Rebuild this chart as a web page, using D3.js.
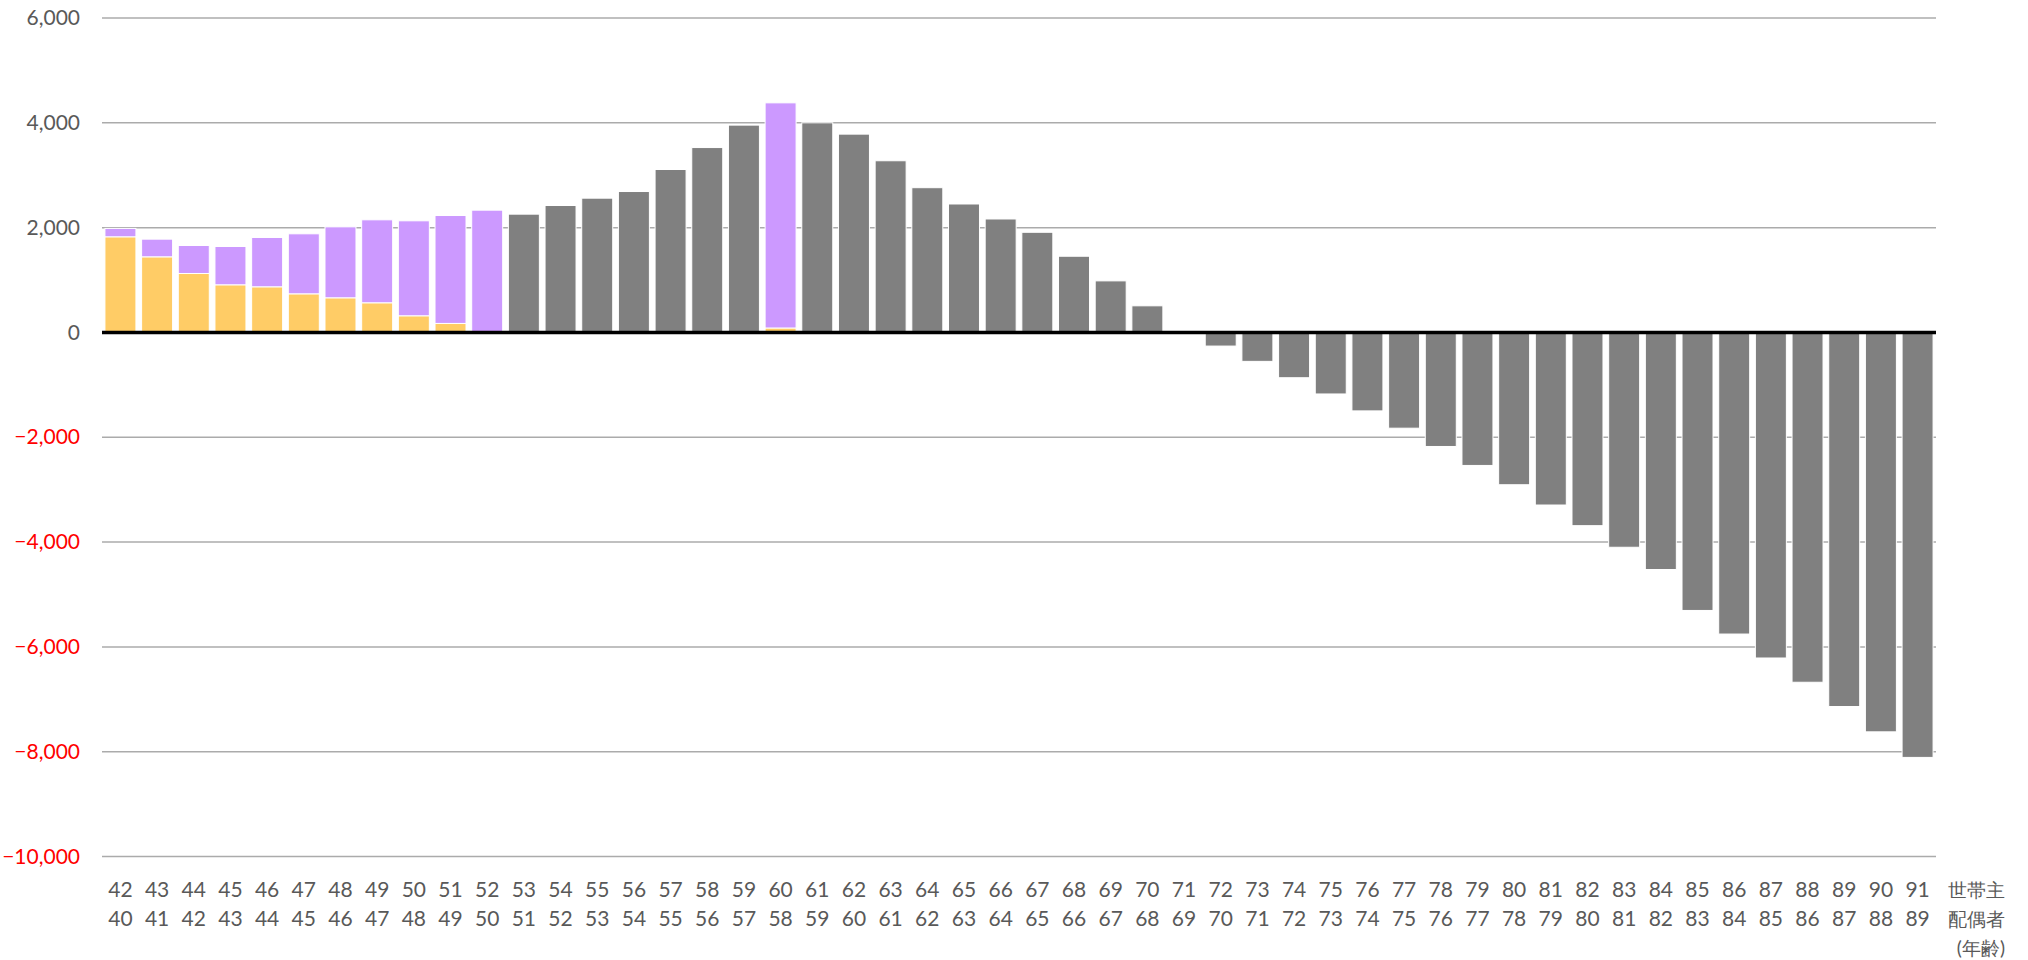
<!DOCTYPE html>
<html>
<head>
<meta charset="utf-8">
<script src="https://cdn.jsdelivr.net/npm/d3@7/dist/d3.min.js"></script>
<style>
  html, body { margin: 0; padding: 0; background: #fff; }
  svg { display: block; }
  text { font-family: Lato, "Noto Sans", sans-serif; }
</style>
</head>
<body>
<svg id="chart" width="2028" height="960"></svg>
<script>
// ---- data ----
const headAges   = [42,43,44,45,46,47,48,49,50,51,52,53,54,55,56,57,58,59,60,61,62,63,64,65,66,67,68,69,70,71,72,73,74,75,76,77,78,79,80,81,82,83,84,85,86,87,88,89,90,91];
const spouseAges = [40,41,42,43,44,45,46,47,48,49,50,51,52,53,54,55,56,57,58,59,60,61,62,63,64,65,66,67,68,69,70,71,72,73,74,75,76,77,78,79,80,81,82,83,84,85,86,87,88,89];
const yellowVals = [1825,1443,1125,909,871,737,661,566,318,172,0,0,0,0,0,0,0,0,85,0,0,0,0,0,0,0,0,0,0,0,0,0,0,0,0,0,0,0,0,0,0,0,0,0,0,0,0,0,0,0];
const purpleVals = [160,337,534,731,941,1145,1354,1583,1812,2059,2333,0,0,0,0,0,0,0,4296,0,0,0,0,0,0,0,0,0,0,0,0,0,0,0,0,0,0,0,0,0,0,0,0,0,0,0,0,0,0,0];
const grayVals   = [0,0,0,0,0,0,0,0,0,0,0,2257,2422,2562,2689,3109,3528,3956,0,4000,3784,3276,2762,2451,2165,1911,1454,984,508,0,-260,-552,-864,-1174,-1497,-1827,-2176,-2538,-2906,-3293,-3687,-4099,-4524,-5305,-5755,-6212,-6675,-7138,-7621,-8109];
const yTicks = [6000,4000,2000,0,-2000,-4000,-6000,-8000,-10000];
const axisTitle = ["世帯主","配偶者","(年齢)"];
const seriesKeys = ["yellow","purple","gray"];
const seriesColors = ["#FFCC66","#CC99FF","#808080"];

(function () {
// ---- layout ----
const svg = d3.select("#chart");
const pLeft = 102, pRight = 1936, pTop = 18, pBottom = 856.5;

const rows = headAges.map((h, i) => ({ cat: String(h), yellow: yellowVals[i], purple: purpleVals[i], gray: grayVals[i] }));

const x = d3.scaleBand().domain(rows.map(d => d.cat)).range([pLeft, pRight]).paddingInner(0.155).paddingOuter(0.08);
const y = d3.scaleLinear().domain([-10000, 6000]).range([pBottom, pTop]);
const color = d3.scaleOrdinal().domain(seriesKeys).range(seriesColors);

// gridlines
svg.append("g").selectAll("line").data(yTicks.filter(t => t !== 0)).join("line")
  .attr("x1", pLeft).attr("x2", pRight)
  .attr("y1", d => y(d)).attr("y2", d => y(d))
  .attr("stroke", "#ABABAB").attr("stroke-width", 1.5);

// y axis labels
const yAxis = d3.axisLeft(y).tickValues(yTicks).tickFormat(d3.format(",")).tickSize(0).tickPadding(0);
const yg = svg.append("g").attr("transform", `translate(${80},0)`).call(yAxis);
yg.select(".domain").remove();
yg.selectAll("text")
  .attr("font-family", "Lato, 'Noto Sans', sans-serif")
  .attr("font-size", 21)
  .attr("fill", d => d < 0 ? "#FF0000" : "#595959");

// stacked bars
const stack = d3.stack().keys(seriesKeys).offset(d3.stackOffsetDiverging);
const series = stack(rows);
svg.append("g").selectAll("g").data(series).join("g")
  .attr("fill", d => color(d.key))
  .selectAll("rect").data(d => d.filter(p => p[1] !== p[0])).join("rect")
  .attr("x", d => x(d.data.cat))
  .attr("width", x.bandwidth())
  .attr("y", d => y(Math.max(d[0], d[1])))
  .attr("height", d => Math.abs(y(d[0]) - y(d[1])))
  .attr("stroke", "#ffffff").attr("stroke-width", 1);

// zero line
svg.append("line")
  .attr("x1", pLeft).attr("x2", pRight)
  .attr("y1", y(0)).attr("y2", y(0))
  .attr("stroke", "#000").attr("stroke-width", 3.5);

// x category labels (two rows)
const xg = svg.append("g").attr("fill", "#595959").attr("font-size", 21).attr("text-anchor", "middle");
xg.selectAll("text.r1").data(headAges).join("text").attr("class", "r1")
  .attr("x", d => x(String(d)) + x.bandwidth() / 2).attr("y", 897).text(d => d);
xg.selectAll("text.r2").data(spouseAges).join("text").attr("class", "r2")
  .attr("x", (d, i) => x(String(headAges[i])) + x.bandwidth() / 2).attr("y", 926).text(d => d);

// axis title
svg.append("g").attr("fill", "#595959").attr("text-anchor", "end")
  .attr("font-family", "'Noto Sans CJK JP', sans-serif").attr("font-size", 19)
  .selectAll("text").data(axisTitle).join("text")
  .attr("x", 2005).attr("y", (d, i) => 897 + i * 29).text(d => d);
})();
</script>
</body>
</html>
